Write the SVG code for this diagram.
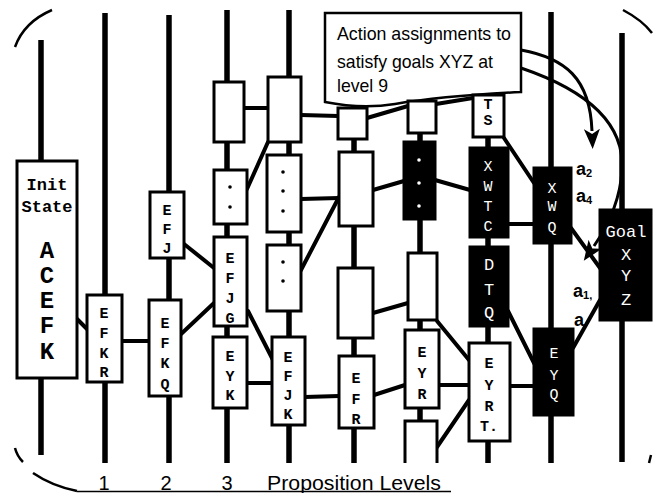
<svg xmlns="http://www.w3.org/2000/svg" width="656" height="493" viewBox="0 0 656 493">
<style>
.lv{stroke:#000;stroke-width:5.5;fill:none}
.cn{stroke:#000;stroke-width:4;fill:none;stroke-linecap:round}
.bx{fill:#fff;stroke:#000;stroke-width:3}
.bk{fill:#000;stroke:#000;stroke-width:3}
.m{font-family:"Liberation Mono","DejaVu Sans Mono",monospace;font-weight:bold;font-size:15px;text-anchor:middle;fill:#000}
.w{fill:#fff;font-weight:normal}
.big{font-size:24px}
.t17{font-size:17px}
.s{font-family:"Liberation Sans",Arial,sans-serif;fill:#000}
.arc{stroke:#000;stroke-width:2.5;fill:none}
.ar{stroke:#000;stroke-width:3;fill:none}
.dot{fill:#000}
.wd{fill:#fff}
</style>
<defs>
<marker id="ah" viewBox="0 0 20 16" refX="2" refY="8" markerWidth="20" markerHeight="16" markerUnits="userSpaceOnUse" orient="auto">
<path d="M0,0 L20,8 L0,16 L5,8 Z" fill="#000"/>
</marker>
</defs>
<rect width="656" height="493" fill="#fff"/>
<g id="enclosure">
<path class="arc" d="M15,47 Q24,22 52,10"/>
<path class="arc" d="M15,448 Q17,456 23,462"/>
<path class="arc" d="M33,473 Q52,486 77,491"/>
<path stroke="#000" stroke-width="1.5" fill="none" d="M77,491.5 L451,491.5"/>
<path class="arc" d="M623,10 Q642,20 652,33"/>
<path class="arc" d="M651,455 L649,463"/>
</g>
<g id="levels">
<line class="lv" x1="41" y1="40" x2="41" y2="455"/>
<line class="lv" x1="105" y1="13" x2="105" y2="463"/>
<line class="lv" x1="169" y1="15" x2="169" y2="463"/>
<line class="lv" x1="227" y1="10" x2="227" y2="463"/>
<line class="lv" x1="289" y1="10" x2="289" y2="463"/>
<line class="lv" x1="354" y1="20" x2="354" y2="463"/>
<line class="lv" x1="420" y1="20" x2="420" y2="463"/>
<line class="lv" x1="488" y1="20" x2="488" y2="463"/>
<line class="lv" x1="551" y1="12" x2="551" y2="463"/>
<line class="lv" x1="622" y1="33" x2="622" y2="462"/>
</g>
<g id="callout">
<path fill="#fff" stroke="#000" stroke-width="2.5" d="M325,13 L521,13 L521,92 C480,94 430,98 395,104 C370,108 345,106 325,102 Z"/>
<text class="s" x="337" y="40" font-size="19" textLength="174" lengthAdjust="spacingAndGlyphs">Action assignments to</text>
<text class="s" x="337" y="68" font-size="19" textLength="156" lengthAdjust="spacingAndGlyphs">satisfy goals XYZ at</text>
<text class="s" x="337" y="92" font-size="19" textLength="51" lengthAdjust="spacingAndGlyphs">level 9</text>
</g>
<g id="connectors">
<line class="cn" x1="77" y1="319" x2="87" y2="329"/>
<line class="cn" x1="122" y1="341" x2="149" y2="341"/>
<line class="cn" x1="184" y1="244" x2="214" y2="268"/>
<line class="cn" x1="180" y1="335" x2="214" y2="303"/>
<line class="cn" x1="244" y1="108" x2="268" y2="108"/>
<line class="cn" x1="268" y1="142" x2="247" y2="189"/>
<line class="cn" x1="248" y1="311" x2="273" y2="360"/>
<line class="cn" x1="247" y1="383" x2="272" y2="383"/>
<line class="cn" x1="301" y1="115" x2="338" y2="116"/>
<line class="cn" x1="301" y1="199" x2="339" y2="198"/>
<line class="cn" x1="339" y1="197" x2="301" y2="270"/>
<line class="cn" x1="305" y1="397" x2="339" y2="396"/>
<line class="cn" x1="367" y1="118" x2="408" y2="106"/>
<line class="cn" x1="436" y1="104" x2="473" y2="98"/>
<line class="cn" x1="373" y1="190" x2="404" y2="181"/>
<line class="cn" x1="373" y1="313" x2="408" y2="303"/>
<line class="cn" x1="374" y1="395" x2="405" y2="385"/>
<line class="cn" x1="435" y1="180" x2="470" y2="190"/>
<line class="cn" x1="437" y1="321" x2="469" y2="360"/>
<line class="cn" x1="439" y1="385" x2="469" y2="385"/>
<line class="cn" x1="437" y1="447" x2="469" y2="400"/>
<line class="cn" x1="504" y1="138" x2="534" y2="183"/>
<line class="cn" x1="508" y1="224" x2="534" y2="224"/>
<line class="cn" x1="508" y1="311" x2="534" y2="363"/>
<line class="cn" x1="510" y1="386" x2="534" y2="386"/>
<line class="cn" x1="571" y1="228" x2="600" y2="268"/>
<line class="cn" x1="573" y1="348" x2="600" y2="300"/>
</g>
<g id="init">
<rect class="bx" x="17" y="161" width="60" height="217"/>
<text class="m t17" x="47" y="190">Init</text>
<text class="m t17" x="47" y="212">State</text>
<text class="m big" x="47" y="258">A</text>
<text class="m big" x="47" y="283">C</text>
<text class="m big" x="47" y="308">E</text>
<text class="m big" x="47" y="333">F</text>
<text class="m big" x="47" y="359">K</text>
</g>
<g id="l1-efkr">
<rect class="bx" x="87" y="295" width="35" height="87"/>
<text class="m" x="104" y="318">E</text><text class="m" x="104" y="338">F</text><text class="m" x="104" y="358">K</text><text class="m" x="104" y="377">R</text>
</g>
<g id="l2-efj">
<rect class="bx" x="150" y="192" width="34" height="66"/>
<text class="m" x="167" y="215">E</text><text class="m" x="167" y="234">F</text><text class="m" x="167" y="253">J</text>
</g>
<g id="l2-efkq">
<rect class="bx" x="149" y="300" width="32" height="96"/>
<text class="m" x="165" y="328">E</text><text class="m" x="165" y="348">F</text><text class="m" x="165" y="368">K</text><text class="m" x="165" y="389">Q</text>
</g>
<g id="l3-top">
<rect class="bx" x="214" y="82" width="30" height="60"/>
</g>
<g id="l3-dots">
<rect class="bx" x="214" y="170" width="33" height="54"/>
<circle class="dot" cx="230" cy="187" r="1.8"/><circle class="dot" cx="230" cy="207" r="1.8"/>
</g>
<g id="l3-efjg">
<rect class="bx" x="214" y="237" width="33" height="89"/>
<text class="m" x="230" y="263">E</text><text class="m" x="230" y="283">F</text><text class="m" x="230" y="303">J</text><text class="m" x="230" y="323">G</text>
</g>
<g id="l3-eyk">
<rect class="bx" x="213" y="337" width="34" height="71"/>
<text class="m" x="230" y="361">E</text><text class="m" x="230" y="381">Y</text><text class="m" x="230" y="400">K</text>
</g>
<g id="l4-top">
<rect class="bx" x="268" y="77" width="33" height="65"/>
</g>
<g id="l4-dots3">
<rect class="bx" x="267" y="155" width="34" height="77"/>
<circle class="dot" cx="283" cy="172" r="1.8"/><circle class="dot" cx="283" cy="191" r="1.8"/><circle class="dot" cx="283" cy="211" r="1.8"/>
</g>
<g id="l4-dots2">
<rect class="bx" x="267" y="245" width="34" height="66"/>
<circle class="dot" cx="283" cy="262" r="1.8"/><circle class="dot" cx="283" cy="281" r="1.8"/>
</g>
<g id="l4-efjk">
<rect class="bx" x="272" y="337" width="33" height="88"/>
<text class="m" x="288" y="362">E</text><text class="m" x="288" y="381">F</text><text class="m" x="288" y="400">J</text><text class="m" x="288" y="419">K</text>
</g>
<g id="l5-top">
<rect class="bx" x="338" y="108" width="29" height="31"/>
</g>
<g id="l5-b2">
<rect class="bx" x="339" y="152" width="34" height="74"/>
</g>
<g id="l5-b3">
<rect class="bx" x="338" y="268" width="35" height="70"/>
</g>
<g id="l5-efr">
<rect class="bx" x="339" y="356" width="35" height="72"/>
<text class="m" x="356" y="383">E</text><text class="m" x="356" y="404">F</text><text class="m" x="356" y="424">R</text>
</g>
<g id="l6-top">
<rect class="bx" x="408" y="101" width="28" height="32"/>
</g>
<g id="l6-black">
<rect class="bk" x="404" y="142" width="31" height="77"/>
<circle class="wd" cx="419" cy="160" r="1.8"/><circle class="wd" cx="419" cy="183" r="1.8"/><circle class="wd" cx="419" cy="206" r="1.8"/>
</g>
<g id="l6-white">
<rect class="bx" x="408" y="253" width="29" height="67"/>
</g>
<g id="l6-eyr">
<rect class="bx" x="405" y="330" width="34" height="78"/>
<text class="m" x="422" y="357">E</text><text class="m" x="422" y="378">Y</text><text class="m" x="422" y="399">R</text>
</g>
<g id="l6-bottom">
<path class="bx" d="M405,463 L405,421 L437,421 L437,463"/>
</g>
<g id="l7-ts">
<rect class="bx" x="473" y="95" width="31" height="42"/>
<text class="m" x="488" y="109">T</text><text class="m" x="488" y="125">S</text>
</g>
<g id="l7-xwtc">
<rect class="bk" x="470" y="148" width="38" height="89"/>
<text class="m w" x="488" y="171">X</text><text class="m w" x="488" y="191">W</text><text class="m w" x="488" y="211">T</text><text class="m w" x="488" y="231">C</text>
</g>
<g id="l7-dtq">
<rect class="bk" x="470" y="247" width="38" height="79"/>
<text class="m w t17" x="489" y="270">D</text><text class="m w t17" x="489" y="295">T</text><text class="m w t17" x="489" y="318">Q</text>
</g>
<g id="l7-eyrt">
<rect class="bx" x="469" y="343" width="41" height="98"/>
<text class="m" x="489" y="368">E</text><text class="m" x="489" y="390">Y</text><text class="m" x="489" y="411">R</text><text class="m" x="489" y="431">T.</text>
</g>
<g id="l8-xwq">
<rect class="bk" x="534" y="168" width="37" height="75"/>
<text class="m w" x="552" y="193">X</text><text class="m w" x="552" y="211">W</text><text class="m w" x="552" y="232">Q</text>
</g>
<g id="l8-eyq">
<rect class="bk" x="534" y="329" width="39" height="86"/>
<text class="m w" x="554" y="358">E</text><text class="m w" x="554" y="380">Y</text><text class="m w" x="554" y="399">Q</text>
</g>
<g id="goal">
<rect class="bk" x="600" y="210" width="51" height="110"/>
<text class="m w t17" x="626" y="237">Goal</text>
<text class="m w t17" x="626" y="260">X</text><text class="m w t17" x="626" y="281">Y</text><text class="m w t17" x="626" y="305">Z</text>
</g>
<g id="arrows">
<path class="ar" marker-end="url(#ah)" d="M521,50 C565,58 590,78 592,131"/>
<path class="ar" marker-end="url(#ah)" d="M521,68 C580,88 625,120 622,170 C620,205 605,230 594,246"/>
</g>
<g id="action-labels" class="s" font-weight="bold" font-size="18">
<text x="576" y="175">a<tspan font-size="11" dy="2">2</tspan></text>
<text x="576" y="202">a<tspan font-size="11" dy="2">4</tspan></text>
<text x="573" y="297">a<tspan font-size="11" dy="2">1,</tspan></text>
<text x="574" y="326">a</text>
</g>
<g id="axis" class="s" font-size="20">
<text x="104" y="490" text-anchor="middle">1</text>
<text x="166" y="490" text-anchor="middle">2</text>
<text x="227" y="490" text-anchor="middle">3</text>
<text x="267" y="490" textLength="174" lengthAdjust="spacingAndGlyphs">Proposition Levels</text>
</g>
</svg>
